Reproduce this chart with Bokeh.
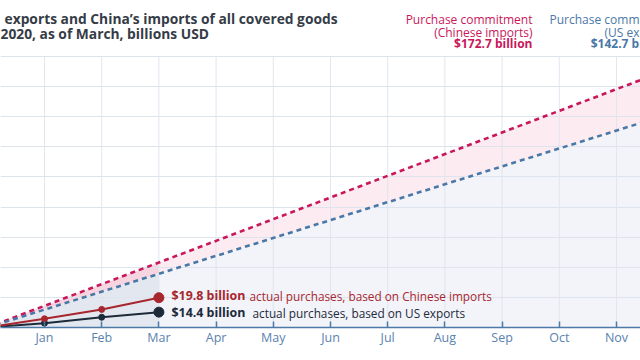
import numpy as np
from bokeh.plotting import figure
from bokeh.models import Range1d, FixedTicker, Label
from bokeh.core.properties import value
from bokeh.embed import file_html
from bokeh.resources import INLINE

# ---- data ----
month_ticks = [1, 2, 3, 4, 5, 6, 7, 8, 9, 10, 11]
month_labels = ["Jan", "Feb", "Mar", "Apr", "May", "Jun", "Jul", "Aug", "Sep", "Oct", "Nov"]
y_ticks = [20, 40, 60, 80, 100, 120, 140, 160, 180]

commit_months = [0, 12]
commit_cn = [0, 172.7]      # Chinese imports commitment, billions USD
commit_us = [0, 142.7]      # US exports commitment, billions USD

actual_months = [0, 1, 2, 3]
actual_cn = [0, 5.8, 12.0, 19.8]   # actual purchases, Chinese imports
actual_us = [0, 2.9, 6.8, 10.2]    # actual purchases, US exports (as drawn)

FONT = "Open Sans"
RED_DASH = "#c9175b"
BLUE_DASH = "#4a78a6"
RED = "#a8262d"
DARK = "#1d2a3a"
GRID = "#dde4ed"

X0, X1 = 0.2308, 11.42
Y_TOP = 217.2

p = figure(width=640, height=360,
           x_range=Range1d(X0, X1), y_range=Range1d(0, Y_TOP),
           output_backend="svg", toolbar_location=None,
           y_axis_location=None,
           min_border_left=0, min_border_right=0,
           min_border_top=0, min_border_bottom=33)
p.outline_line_color = None
p.background_fill_color = "white"
p.border_fill_color = "white"

# horizontal grid from library; vertical grid limited to the value area
p.xgrid.visible = False
p.ygrid.ticker = FixedTicker(ticks=y_ticks)
p.ygrid.grid_line_color = GRID
p.ygrid.grid_line_width = 1

# shaded areas (computed from commitment series)
cut = actual_months[-1]
x_all = np.array([commit_months[0], cut, commit_months[-1]], dtype=float)
cn_all = np.interp(x_all, commit_months, commit_cn)
us_all = np.interp(x_all, commit_months, commit_us)

xl, xr = x_all[:2], x_all[1:]
p.varea(x=xr, y1=np.zeros(2), y2=us_all[1:], fill_color="#f2f4f9", level="image")
p.varea(x=xr, y1=us_all[1:], y2=cn_all[1:], fill_color="#fcebf0", level="image")
p.varea(x=xl, y1=np.zeros(2), y2=us_all[:2], fill_color="#e3e8f0", level="image")
p.varea(x=xl, y1=us_all[:2], y2=cn_all[:2], fill_color="#f7d5e0", level="image")

p.segment(x0=month_ticks, y0=[0] * len(month_ticks), x1=month_ticks,
          y1=[y_ticks[-1]] * len(month_ticks), line_color=GRID, line_width=1, line_alpha=0.9)

# commitment dashed lines
p.line(commit_months, commit_cn, line_color=RED_DASH, line_width=2.6, line_dash="5 4")
p.line(commit_months, commit_us, line_color=BLUE_DASH, line_width=2.6, line_dash="5 4")

# actual lines
p.line(actual_months, actual_us, line_color=DARK, line_width=2)
p.line(actual_months, actual_cn, line_color=RED, line_width=2)
p.scatter(actual_months[1:-1], actual_us[1:-1], size=6, color=DARK)
p.scatter(actual_months[1:-1], actual_cn[1:-1], size=6, color=RED)
p.scatter(actual_months[-1:], actual_us[-1:], size=10, color=DARK)
p.scatter(actual_months[-1:], actual_cn[-1:], size=10, color=RED)

# x axis
ax = p.xaxis[0]
ax.ticker = FixedTicker(ticks=month_ticks)
ax.major_label_overrides = {t: l for t, l in zip(month_ticks, month_labels)}
ax.axis_line_color = "#4d79a6"
ax.axis_line_width = 1.6
ax.major_tick_line_color = "#4d79a6"
ax.major_tick_line_width = 1.5
ax.major_tick_in = 6
ax.major_tick_out = 0
ax.minor_tick_line_color = None
ax.major_label_standoff = 1
ax.major_label_text_font = FONT
ax.major_label_text_font_size = "12.5px"
ax.major_label_text_color = "#5a82ae"

# end-of-line labels
p.text(x=[3.220], y=[21.25], text=["$19.8 billion"], text_font=value(FONT), text_font_size="12.4px",
       text_font_style="bold", text_color=RED, text_baseline="middle")
p.text(x=[4.584], y=[21.1], text=["actual purchases, based on Chinese imports"], text_font=value(FONT),
       text_font_size="11.8px", text_color=RED, text_baseline="middle")
p.text(x=[3.220], y=[9.96], text=["$14.4 billion"], text_font=value(FONT), text_font_size="12.4px",
       text_font_style="bold", text_color=DARK, text_baseline="middle")
p.text(x=[4.636], y=[9.8], text=["actual purchases, based on US exports"], text_font=value(FONT),
       text_font_size="11.8px", text_color=DARK, text_baseline="middle")

# title
TITLE_C = "#353c46"
p.add_layout(Label(x=0.3007, y=205.0, text="exports and China\u2019s imports of all covered goods",
                   text_align="left", text_baseline="middle", text_font=FONT,
                   text_font_size="13.8px", text_font_style="bold", text_color=TITLE_C))
p.add_layout(Label(x=X0, y=195.1, text="2020, as of March, billions USD",
                   text_align="left", text_baseline="middle", text_font=FONT,
                   text_font_size="13.8px", text_font_style="bold", text_color=TITLE_C))

# commitment labels
def lab(x, y, t, color, align, bold=False, size="12px"):
    p.add_layout(Label(x=x, y=y, text=t, text_align=align, text_baseline="middle",
                       text_font=FONT, text_font_size=size,
                       text_font_style="bold" if bold else "normal", text_color=color))

lab(9.531, 204.4, "Purchase commitment", RED_DASH, "right")
lab(9.531, 196.1, "(Chinese imports)", RED_DASH, "right")
lab(9.531, 188.8, "$172.7 billion", RED_DASH, "right", bold=True, size="12px")

lab(9.829, 204.4, "Purchase commitment", BLUE_DASH, "left")
lab(10.79, 196.1, "(US exports)", BLUE_DASH, "left")
lab(10.55, 188.8, "$142.7 billion", BLUE_DASH, "left", bold=True, size="12px")

open("out.html", "w").write(file_html(p, INLINE))
